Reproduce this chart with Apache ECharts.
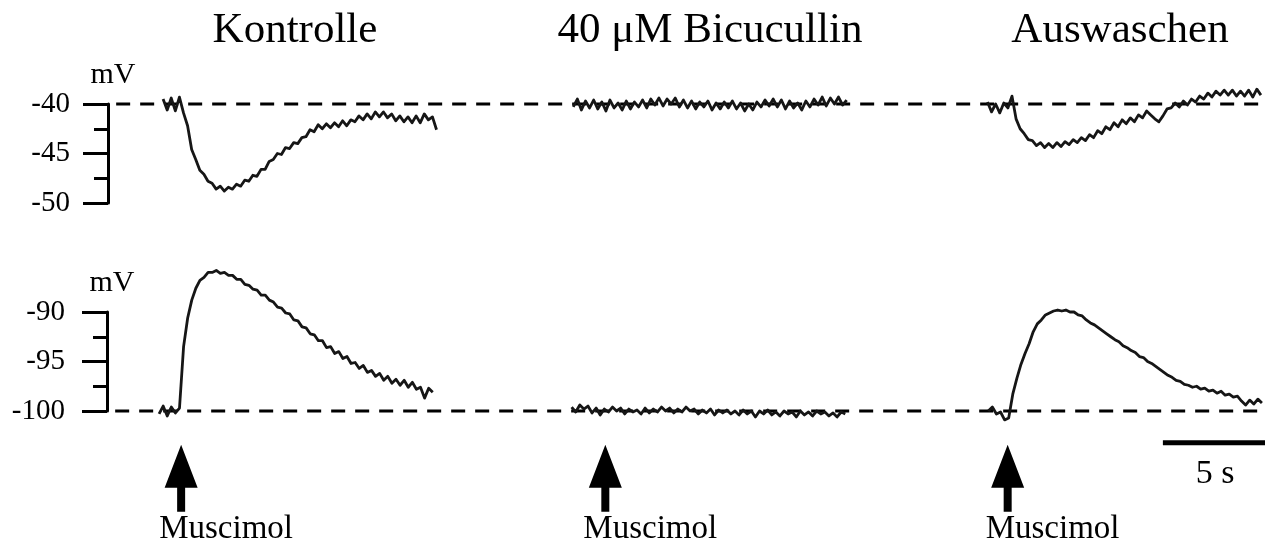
<!DOCTYPE html>
<html><head><meta charset="utf-8">
<script src="https://cdn.jsdelivr.net/npm/echarts@6/dist/echarts.min.js"></script>
<style>html,body{margin:0;padding:0;background:#fff}#c{width:1270px;height:542px}</style>
</head><body><div id="c"></div><script>
// ---- data (time in s, membrane potential in mV) ----
const STEP = 0.2;                       // sample spacing, s
const titles = ['Kontrolle', '40 \u03bcM Bicucullin', 'Auswaschen'];
const topStarts = [2.7, 22.8, 43.1];     // trace start times, upper row
const bottomStarts = [2.55, 22.75, 43.15]; // trace start times, lower row
const topTicks = [-50, -45, -40];
const bottomTicks = [-100, -95, -90];
const topBaseline = -40;
const bottomBaseline = -100;
const baselineSpan = [0.4, 56.4];
const muscimolTimes = [3.63, 24.4, 44.1];
const scaleBar = [51.7, 56.7];          // 5 s

const kontrolleTop = [-39.5,-40.6,-39.4,-40.7,-39.3,-40.9,-42.2,-44.6,-45.6,-46.7,
 -47.1,-47.8,-48.0,-48.6,-48.3,-48.8,-48.4,-48.6,-48.1,-48.3,
 -47.7,-47.8,-47.2,-47.3,-46.6,-46.6,-45.8,-45.6,-45.0,-45.1,
 -44.4,-44.5,-43.9,-44.0,-43.4,-43.3,-42.6,-42.8,-42.1,-42.5,
 -42.0,-42.4,-41.9,-42.3,-41.7,-42.2,-41.6,-41.8,-41.2,-41.6,
 -41.0,-41.5,-40.8,-41.3,-40.8,-41.4,-41.0,-41.7,-41.2,-41.8,
 -41.3,-41.9,-41.2,-41.9,-41.0,-41.6,-41.3,-42.6];
const bicucullinTop = [-40.3,-39.5,-40.6,-39.7,-40.4,-39.6,-40.5,-39.8,-40.7,-39.6,
 -40.4,-39.9,-40.6,-39.7,-40.5,-39.8,-40.3,-39.6,-40.4,-39.5,
 -40.1,-39.4,-40.2,-39.5,-40.0,-39.4,-40.3,-39.6,-40.4,-39.7,
 -40.5,-39.8,-40.3,-39.7,-40.6,-39.9,-40.5,-39.8,-40.4,-39.7,
 -40.5,-39.9,-40.7,-40.0,-40.6,-39.8,-40.3,-39.6,-40.2,-39.5,
 -40.3,-39.6,-40.5,-39.7,-40.4,-39.9,-40.6,-39.7,-40.3,-39.5,
 -40.1,-39.3,-40.2,-39.4,-40.0,-39.3,-40.1,-39.6];
const auswaschenTop = [-39.8,-40.8,-40.0,-40.9,-39.9,-40.4,-39.2,-41.5,-42.5,-43.0,
 -43.6,-43.7,-44.2,-43.9,-44.4,-44.0,-44.4,-43.9,-44.3,-43.8,
 -44.1,-43.6,-43.9,-43.4,-43.7,-43.1,-43.4,-42.7,-43.0,-42.3,
 -42.6,-41.9,-42.3,-41.6,-42.0,-41.4,-41.8,-41.1,-41.4,-40.7,
 -41.1,-41.5,-41.8,-41.2,-40.5,-40.4,-39.9,-40.3,-39.7,-40.1,
 -39.5,-39.8,-39.2,-39.5,-38.9,-39.3,-38.7,-39.1,-38.6,-39.1,
 -38.6,-39.2,-38.7,-39.2,-38.6,-39.3,-38.5,-39.1];
const kontrolleBottom = [-100.3,-99.5,-100.5,-99.6,-100.2,-99.7,-93.5,-90.6,-88.8,-87.6,
 -86.8,-86.5,-86.0,-86.0,-85.8,-86.1,-86.0,-86.3,-86.3,-86.7,
 -86.7,-87.2,-87.3,-87.7,-87.8,-88.3,-88.3,-88.8,-89.0,-89.5,
 -89.6,-90.1,-90.2,-90.8,-90.9,-91.5,-91.6,-92.2,-92.3,-92.9,
 -92.9,-93.6,-93.5,-94.2,-94.0,-94.7,-94.5,-95.2,-95.1,-95.7,
 -95.4,-96.1,-95.9,-96.5,-96.2,-96.9,-96.5,-97.2,-96.8,-97.4,
 -96.9,-97.6,-97.1,-97.8,-97.6,-98.7,-97.7,-98.1];
const bicucullinBottom = [-99.6,-100.1,-99.4,-99.8,-99.5,-100.2,-99.7,-100.4,-99.8,-100.1,
 -99.6,-100.0,-99.7,-100.3,-99.8,-100.1,-99.9,-100.3,-99.7,-100.2,
 -99.8,-100.1,-99.6,-100.0,-99.7,-100.2,-99.8,-100.1,-99.6,-100.0,
 -99.8,-100.3,-99.9,-100.2,-99.8,-100.4,-99.9,-100.2,-99.9,-100.3,
 -100.0,-100.4,-99.9,-100.3,-100.0,-100.6,-100.0,-100.3,-99.9,-100.4,
 -100.1,-100.5,-100.0,-100.3,-100.1,-100.6,-100.0,-100.4,-100.1,-100.5,
 -100.0,-100.3,-100.1,-100.5,-100.2,-100.6,-100.1,-100.3];
const auswaschenBottom = [-100.0,-99.6,-100.3,-100.1,-100.9,-100.7,-98.3,-96.7,-95.3,-94.2,
 -93.2,-92.0,-91.2,-90.8,-90.3,-90.1,-89.9,-89.8,-89.9,-89.8,
 -90.0,-90.0,-90.3,-90.4,-90.8,-91.1,-91.3,-91.6,-91.9,-92.2,
 -92.5,-92.8,-93.0,-93.4,-93.6,-93.9,-94.1,-94.5,-94.6,-95.0,
 -95.2,-95.5,-95.8,-96.1,-96.4,-96.6,-96.9,-97.0,-97.3,-97.4,
 -97.6,-97.5,-97.8,-97.7,-98.0,-97.9,-98.2,-98.0,-98.4,-98.3,
 -98.6,-98.5,-99.0,-99.4,-98.9,-99.3,-98.8,-99.2];

// ---- chart ----
const FONT = "'Liberation Serif','DejaVu Serif',serif";
const INK = '#000';
const toXY = (vals, t0) => vals.map((v, i) => [+(t0 + i * STEP).toFixed(3), v]);

function traceSeries(vals, t0, axisIdx) {
  return { type: 'line', xAxisIndex: axisIdx, yAxisIndex: axisIdx, data: toXY(vals, t0),
    symbol: 'none', clip: false, silent: true, z: 3,
    lineStyle: { color: '#161616', width: 2.8, join: 'round' } };
}
function baselineSeries(level, axisIdx) {
  return { type: 'line', xAxisIndex: axisIdx, yAxisIndex: axisIdx, symbol: 'none', clip: false, silent: true, z: 2,
    data: [[baselineSpan[0], level], [baselineSpan[1], level]],
    lineStyle: { color: INK, width: 2.8, type: [14, 10] } };
}
function yAxisDef(ticks, idx, margin) {
  return { type: 'value', gridIndex: idx, min: ticks[0], max: ticks[ticks.length - 1], interval: 5,
    name: 'mV', nameLocation: 'end', nameGap: 14,
    nameTextStyle: { fontFamily: FONT, fontSize: 30, color: INK, padding: [0, 0, 0, 10] },
    axisLine: { show: true, lineStyle: { color: INK, width: 3 } },
    axisTick: { show: true, length: 25, lineStyle: { color: INK, width: 3 } },
    minorTick: { show: true, splitNumber: 2, length: 14, lineStyle: { color: INK, width: 3 } },
    splitLine: { show: false },
    axisLabel: { fontFamily: FONT, fontSize: 29, color: INK, margin: margin } };
}
function xAxisDef(idx) {
  return { type: 'value', gridIndex: idx, min: 0, max: 56.7, show: false };
}

const series = [
  baselineSeries(topBaseline, 0), baselineSeries(bottomBaseline, 1),
  traceSeries(kontrolleTop, topStarts[0], 0),
  traceSeries(bicucullinTop, topStarts[1], 0),
  traceSeries(auswaschenTop, topStarts[2], 0),
  traceSeries(kontrolleBottom, bottomStarts[0], 1),
  traceSeries(bicucullinBottom, bottomStarts[1], 1),
  traceSeries(auswaschenBottom, bottomStarts[2], 1),
  { type: 'line', xAxisIndex: 1, yAxisIndex: 1, symbol: 'none', clip: false, silent: true,
    data: scaleBar.map(t => [t, -103.2]), lineStyle: { color: INK, width: 5 } },
  { type: 'scatter', xAxisIndex: 1, yAxisIndex: 1, clip: false, silent: true,
    data: muscimolTimes.map(t => [t, -106.8]),
    symbol: 'path://M16.5,0 L33,43 L20.5,43 L20.5,67 L12.5,67 L12.5,43 L0,43 Z',
    symbolSize: [33, 67], itemStyle: { color: INK, opacity: 1 },
    label: { show: true, position: 'bottom', distance: 1, align: 'left', offset: [-22, 0],
      formatter: 'Muscimol', fontFamily: FONT, fontSize: 33, color: INK } }
];

const chart = echarts.init(document.getElementById('c'), null, { renderer: 'canvas' });
chart.setOption({
  animation: false,
  backgroundColor: '#fff',
  grid: [
    { left: 108, right: 5, top: 104, height: 99 },
    { left: 107, right: 5, top: 312, height: 99 }
  ],
  xAxis: [xAxisDef(0), xAxisDef(1)],
  yAxis: [yAxisDef(topTicks, 0, 38), yAxisDef(bottomTicks, 1, 42)],
  graphic: [
    ...titles.map((t, i) => ({ type: 'text', x: [295, 710, 1120][i], y: 31,
      style: { text: t, fontFamily: FONT, fontSize: 43, fill: INK, align: 'center', verticalAlign: 'middle' } })),
    { type: 'text', x: 1215, y: 474,
      style: { text: '5 s', fontFamily: FONT, fontSize: 34, fill: INK, align: 'center', verticalAlign: 'middle' } }
  ],
  series
});
</script></body></html>
